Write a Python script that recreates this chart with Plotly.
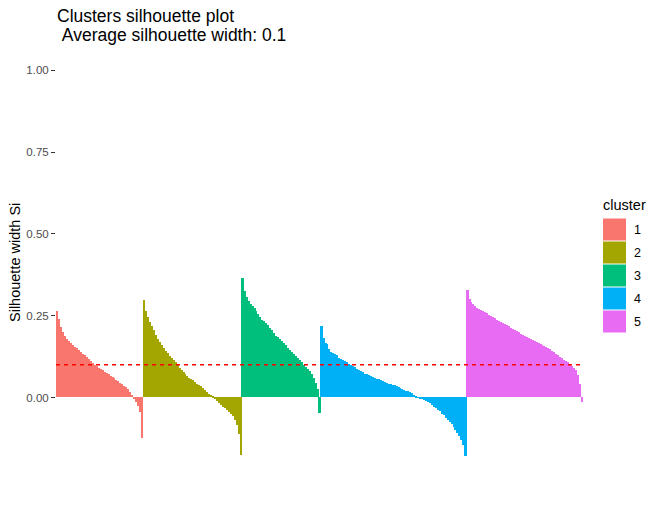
import plotly.graph_objects as go

# ---- data (silhouette widths, sorted within each cluster) ----
cluster_labels = ["1", "2", "3", "4", "5"]
cluster_colors = ["#F8766D", "#A3A500", "#00BF7D", "#00B0F6", "#E76BF3"]

sil_c1 = [0.265, 0.24, 0.215, 0.20, 0.188, 0.179, 0.172, 0.166, 0.160, 0.155,
          0.150, 0.145, 0.140, 0.134, 0.129, 0.123, 0.117, 0.111, 0.105, 0.100,
          0.095, 0.091, 0.087, 0.083, 0.079, 0.075, 0.071, 0.067, 0.063, 0.059,
          0.054, 0.049, 0.045, 0.041, 0.036, 0.031, 0.025, 0.018, 0.008, -0.005,
          -0.013, -0.025, -0.045, -0.125]
sil_c2 = [0.298, 0.265, 0.245, 0.231, 0.217, 0.205, 0.192, 0.179, 0.170, 0.161,
          0.152, 0.143, 0.135, 0.128, 0.122, 0.115, 0.107, 0.099, 0.091, 0.084,
          0.078, 0.072, 0.066, 0.061, 0.057, 0.052, 0.047, 0.042, 0.038, 0.034,
          0.029, 0.024, 0.018, 0.012, 0.008, 0.002, -0.004, -0.010, -0.016, -0.022,
          -0.028, -0.033, -0.038, -0.044, -0.051, -0.058, -0.070, -0.085, -0.112, -0.175]
sil_c3 = [0.366, 0.324, 0.308, 0.295, 0.287, 0.279, 0.272, 0.265, 0.255, 0.245,
          0.238, 0.233, 0.228, 0.222, 0.213, 0.205, 0.198, 0.189, 0.184, 0.179,
          0.173, 0.166, 0.159, 0.152, 0.145, 0.138, 0.132, 0.126, 0.120, 0.114,
          0.107, 0.100, 0.093, 0.087, 0.081, 0.071, 0.061, 0.043, 0.026, -0.048]
sil_c4 = [0.217, 0.183, 0.167, 0.162, 0.148, 0.140, 0.136, 0.134, 0.129, 0.121,
          0.118, 0.115, 0.112, 0.107, 0.103, 0.099, 0.095, 0.092, 0.088, 0.085,
          0.080, 0.077, 0.073, 0.071, 0.069, 0.066, 0.063, 0.061, 0.058, 0.055,
          0.052, 0.049, 0.046, 0.044, 0.042, 0.040, 0.038, 0.037, 0.035, 0.032,
          0.030, 0.027, 0.024, 0.021, 0.019, 0.016, 0.013, 0.009, 0.006, 0.001,
          -0.002, -0.004, -0.007, -0.011, -0.014, -0.018, -0.023, -0.028, -0.033, -0.038,
          -0.042, -0.049, -0.055, -0.062, -0.068, -0.075, -0.082, -0.090, -0.099, -0.108,
          -0.118, -0.130, -0.145, -0.178]
sil_c5 = [0.329, 0.301, 0.291, 0.285, 0.279, 0.274, 0.271, 0.267, 0.264, 0.261,
          0.257, 0.253, 0.250, 0.246, 0.242, 0.238, 0.235, 0.232, 0.229, 0.226,
          0.221, 0.217, 0.213, 0.209, 0.206, 0.203, 0.199, 0.195, 0.192, 0.189,
          0.185, 0.182, 0.180, 0.177, 0.174, 0.171, 0.167, 0.163, 0.159, 0.156,
          0.153, 0.150, 0.147, 0.143, 0.139, 0.134, 0.130, 0.125, 0.121, 0.116,
          0.111, 0.107, 0.103, 0.097, 0.090, 0.085, 0.068, 0.040, -0.014]

sil_by_cluster = [sil_c1, sil_c2, sil_c3, sil_c4, sil_c5]
avg_sil_width = 0.1
y_tick_vals = [0.0, 0.25, 0.50, 0.75, 1.00]
y_tick_text = ["0.00", "0.25", "0.50", "0.75", "1.00"]

# ---- layout geometry ----
W, H = 662, 506
ML, MR, MT, MB = 56, 79, 51, 31
PW, PH = W - ML - MR, H - MT - MB

def px2paper_x(px):
    return (px - ML) / PW

def px2paper_y(py):
    return (H - MB - py) / PH

FONT = "Liberation Sans, Arial, Helvetica, sans-serif"

fig = go.Figure()
start = 0
for lab, col, vals in zip(cluster_labels, cluster_colors, sil_by_cluster):
    xs = list(range(start, start + len(vals)))
    fig.add_trace(go.Bar(x=xs, y=vals, name=lab,
                         marker=dict(color=col, line=dict(width=0)),
                         width=1.12, showlegend=False))
    start += len(vals)
n_total = start

all_vals = [v for vals in sil_by_cluster for v in vals]
ymin_data = min(all_vals)
ymax_data = 1.0
pad = 0.05 * (ymax_data - ymin_data)

fig.add_shape(type="line", xref="paper", x0=0, x1=1, yref="y", y0=avg_sil_width, y1=avg_sil_width,
              line=dict(color="#FF0000", width=1.4, dash="4px,4px"))

annotations = [
    dict(text="Clusters silhouette plot", xref="paper", x=0, xanchor="left", xshift=-1,
         yref="paper", y=1, yanchor="bottom", yshift=23, showarrow=False,
         font=dict(family=FONT, size=17.5, color="#000000")),
    dict(text="\u00a0Average silhouette width: " + str(avg_sil_width), xref="paper", x=0,
         xanchor="left", xshift=-1, yref="paper", y=1, yanchor="bottom", yshift=4,
         showarrow=False, font=dict(family=FONT, size=17.5, color="#000000")),
    dict(text="Silhouette width Si", xref="paper", x=0, xanchor="center", xshift=-(ML - 15),
         yref="paper", y=0.5, yanchor="middle", textangle=-90, showarrow=False,
         font=dict(family=FONT, size=14.5, color="#000000")),
    dict(text="cluster", xref="paper", x=px2paper_x(601), xanchor="left",
         yref="paper", y=px2paper_y(205), yanchor="middle", showarrow=False,
         font=dict(family=FONT, size=14.5, color="#000000")),
]

key_top = 218
key_pitch = 23
for i, (lab, col) in enumerate(zip(cluster_labels, cluster_colors)):
    y0 = key_top + i * key_pitch
    fig.add_shape(type="rect", xref="paper", yref="paper",
                  x0=px2paper_x(603), x1=px2paper_x(626),
                  y0=px2paper_y(y0 + 0.5), y1=px2paper_y(y0 + key_pitch - 0.5),
                  fillcolor=col, line=dict(width=0), layer="above")
    annotations.append(dict(text=lab, xref="paper", x=px2paper_x(632), xanchor="left",
                            yref="paper", y=px2paper_y(y0 + key_pitch / 2), yanchor="middle",
                            showarrow=False, font=dict(family=FONT, size=12.5, color="#000000")))

fig.update_layout(
    width=W, height=H,
    margin=dict(l=ML, r=MR, t=MT, b=MB, pad=0),
    paper_bgcolor="white", plot_bgcolor="white",
    barmode="overlay", bargap=0,
    showlegend=False,
    annotations=annotations,
    xaxis=dict(range=[-0.6, n_total - 1 + 0.6], showticklabels=False, showgrid=False,
               zeroline=False, showline=False, ticks=""),
    yaxis=dict(range=[ymin_data - pad, ymax_data + pad], tickvals=y_tick_vals, ticktext=y_tick_text,
               showgrid=False, zeroline=False, showline=False, ticks="outside", ticklen=4,
               tickwidth=1, tickcolor="#333333",
               tickfont=dict(family=FONT, size=11.5, color="#4D4D4D")),
)

fig.write_html("out.html")
